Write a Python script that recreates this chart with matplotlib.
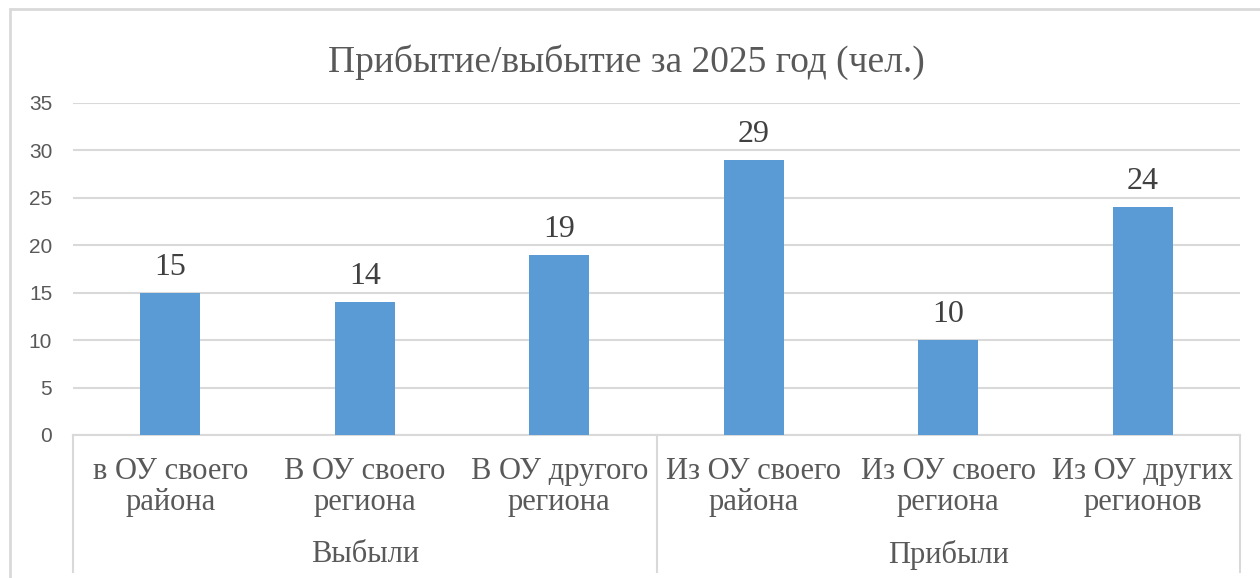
import matplotlib
matplotlib.use("Agg")
import matplotlib.pyplot as plt
from matplotlib.lines import Line2D
from matplotlib.patches import Rectangle

title = "Прибытие/выбытие за 2025 год (чел.)"
categories = ["в ОУ своего\nрайона", "В ОУ своего\nрегиона", "В ОУ другого\nрегиона",
              "Из ОУ своего\nрайона", "Из ОУ своего\nрегиона", "Из ОУ других\nрегионов"]
groups = ["Выбыли", "Прибыли"]
group_sizes = [3, 3]
values = [15, 14, 19, 29, 10, 24]
yticks = [0, 5, 10, 15, 20, 25, 30, 35]

W, H = 1260, 578
fig = plt.figure(figsize=(W / 100, H / 100), dpi=100)
serif = "Liberation Serif"
sans = "Liberation Sans"

# outer chart border
fig.patches.append(Rectangle((10 / W, -0.05), 1.2, 1 - 9 / H + 0.05, transform=fig.transFigure,
                             fill=False, edgecolor="#d9d9d9", linewidth=2.0))

left, right, ybot, ytop = 73, 1240, 435, 103
ax = fig.add_axes([left / W, 1 - ybot / H, (right - left) / W, (ybot - ytop) / H])
axh = ybot - ytop

x = list(range(len(values)))
ax.bar(x, values, width=0.31, color="#5b9bd5", zorder=3)
ax.set_xlim(-0.5, len(values) - 0.5)
ax.set_ylim(0, 35)
ax.set_yticks(yticks)
ax.set_yticklabels([str(t) for t in yticks], fontfamily=sans, fontsize=15, color="#595959")
ax.tick_params(axis="y", length=0, pad=15)
ax.set_xticks([])
ax.grid(axis="y", color="#d9d9d9", linewidth=1.5, zorder=0)
for s in ["top", "right", "left"]:
    ax.spines[s].set_visible(False)
ax.spines["bottom"].set_color("#d9d9d9")
ax.spines["bottom"].set_linewidth(1.5)

for xi, v in zip(x, values):
    ax.annotate(str(v), (xi, v), xytext=(0, 13), textcoords="offset points",
                ha="center", va="baseline", fontfamily=serif, fontsize=23, color="#404040")

# category labels
trans = ax.get_xaxis_transform()
for xi, c in zip(x, categories):
    ax.text(xi, -(487 - ybot) / axh, c, transform=trans, ha="center", va="center",
            fontfamily=serif, fontsize=22, color="#595959", linespacing=1.1)

# group labels and separators
start = 0
bounds = [-0.5]
for g, n in zip(groups, group_sizes):
    mid = start + (n - 1) / 2
    ax.text(mid, -(555 - ybot) / axh, g, transform=trans, ha="center", va="center",
            fontfamily=serif, fontsize=22, color="#595959")
    start += n
    bounds.append(start - 0.5)
for b in bounds:
    ax.add_line(Line2D([b, b], [0, -(572 - ybot) / axh], transform=trans,
                       color="#d9d9d9", linewidth=1.5, clip_on=False))

fig.text(626 / W, 1 - 62 / H, title, ha="center", va="center", fontfamily=serif,
         fontsize=27, color="#595959")

fig.savefig("out.png", dpi=100)
